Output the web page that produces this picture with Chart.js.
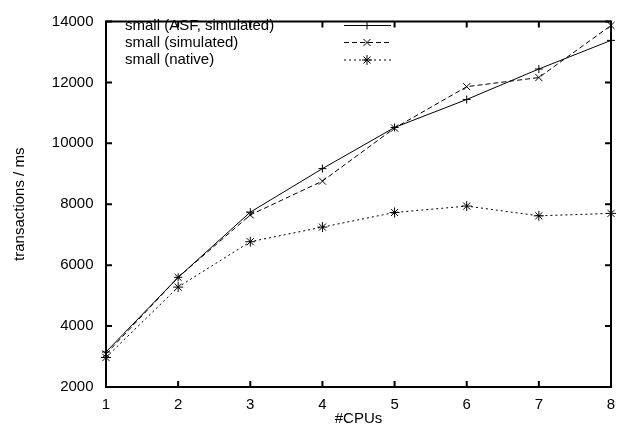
<!DOCTYPE html>
<html>
<head>
<meta charset="utf-8">
<script src="https://cdn.jsdelivr.net/npm/chart.js@4/dist/chart.umd.min.js"></script>
<style>
html,body{margin:0;padding:0;background:#fff;}
canvas{display:block;}
</style>
</head>
<body>
<canvas id="c" width="626" height="439"></canvas>
<script>
const cpus = [1, 2, 3, 4, 5, 6, 7, 8];
const asfSimulated = [3150, 5600, 7740, 9170, 10520, 11440, 12440, 13380];
const simulated = [3080, 5600, 7650, 8760, 10500, 11860, 12160, 13870];
const native = [2970, 5280, 6770, 7250, 7730, 7940, 7620, 7700];
const seriesLabels = ['small (ASF, simulated)', 'small (simulated)', 'small (native)'];
const yTicks = [2000, 4000, 6000, 8000, 10000, 12000, 14000];
const xTitle = '#CPUs';
const yTitle = 'transactions / ms';

const FONT = 'Liberation Sans, Arial, sans-serif';
const FS = 15;
const toPts = arr => arr.map((v, i) => ({x: cpus[i], y: v}));

const frame = {
  id: 'frame',
  afterDatasetsDraw(chart) {
    const {ctx, chartArea: a, scales: {x, y}} = chart;
    ctx.save();
    ctx.strokeStyle = '#000';
    ctx.lineWidth = 2;
    ctx.strokeRect(a.left, a.top, a.right - a.left, a.bottom - a.top);
    const L = 6;
    ctx.beginPath();
    cpus.forEach(v => {
      const px = x.getPixelForValue(v);
      ctx.moveTo(px, a.bottom); ctx.lineTo(px, a.bottom - L);
      ctx.moveTo(px, a.top); ctx.lineTo(px, a.top + L);
    });
    yTicks.forEach(v => {
      const py = y.getPixelForValue(v);
      ctx.moveTo(a.left, py); ctx.lineTo(a.left + L, py);
      ctx.moveTo(a.right, py); ctx.lineTo(a.right - L, py);
    });
    ctx.stroke();
    ctx.restore();
  },
  afterDraw(chart) {
    const {ctx} = chart;
    ctx.save();
    ctx.font = FS + 'px ' + FONT;
    ctx.fillStyle = '#000';
    ctx.textBaseline = 'middle';
    ctx.textAlign = 'left';
    const rows = [25.5, 42.5, 60];
    chart.data.datasets.forEach((ds, i) => {
      const yy = rows[i];
      ctx.fillText(ds.label, 125, yy);
      ctx.strokeStyle = '#000';
      ctx.lineWidth = 1;
      ctx.setLineDash(ds.borderDash || []);
      ctx.beginPath();
      ctx.moveTo(344, yy); ctx.lineTo(391, yy);
      ctx.stroke();
      ctx.setLineDash([]);
      Chart.helpers.drawPoint(ctx, {pointStyle: ds.pointStyle, radius: ds.pointRadius, borderWidth: 1}, 367, yy);
    });
    ctx.restore();
  }
};

new Chart(document.getElementById('c'), {
  type: 'line',
  data: {
    datasets: [
      {label: seriesLabels[0], data: toPts(asfSimulated), borderColor: '#000', backgroundColor: '#000', borderWidth: 1, pointStyle: 'cross', pointRadius: 4, pointBorderWidth: 1, clip: false},
      {label: seriesLabels[1], data: toPts(simulated), borderColor: '#000', backgroundColor: '#000', borderWidth: 1, borderDash: [5, 3], pointStyle: 'crossRot', pointRadius: 5, pointBorderWidth: 1, clip: false},
      {label: seriesLabels[2], data: toPts(native), borderColor: '#000', backgroundColor: '#000', borderWidth: 1, borderDash: [2, 3], pointStyle: 'star', pointRadius: 5, pointBorderWidth: 1, clip: false}
    ]
  },
  options: {
    responsive: false,
    devicePixelRatio: 1,
    animation: false,
    layout: {padding: {top: 11, right: 15, left: 0, bottom: 0}},
    plugins: {legend: {display: false}, tooltip: {enabled: false}},
    elements: {line: {tension: 0}},
    scales: {
      x: {
        type: 'linear', min: 1, max: 8,
        afterFit(s) { s.height = 52; },
        afterBuildTicks(s) { s.ticks = cpus.map(v => ({value: v})); },
        grid: {display: false, drawTicks: false},
        border: {display: false},
        ticks: {color: '#000', font: {family: FONT, size: FS}, padding: 9, maxRotation: 0, callback: v => String(v)},
        title: {display: true, text: xTitle, color: '#000', font: {family: FONT, size: FS}, padding: {top: 0, bottom: 11}}
      },
      y: {
        type: 'linear', min: 2000, max: 14000,
        afterFit(s) { s.width = 106; },
        afterBuildTicks(s) { s.ticks = yTicks.map(v => ({value: v})); },
        grid: {display: false, drawTicks: false},
        border: {display: false},
        ticks: {color: '#000', font: {family: FONT, size: FS}, padding: 12.5, callback: v => String(v)},
        title: {display: true, text: yTitle, color: '#000', font: {family: FONT, size: FS}, padding: {top: 11, bottom: 0}}
      }
    }
  },
  plugins: [frame]
});
</script>
</body>
</html>
